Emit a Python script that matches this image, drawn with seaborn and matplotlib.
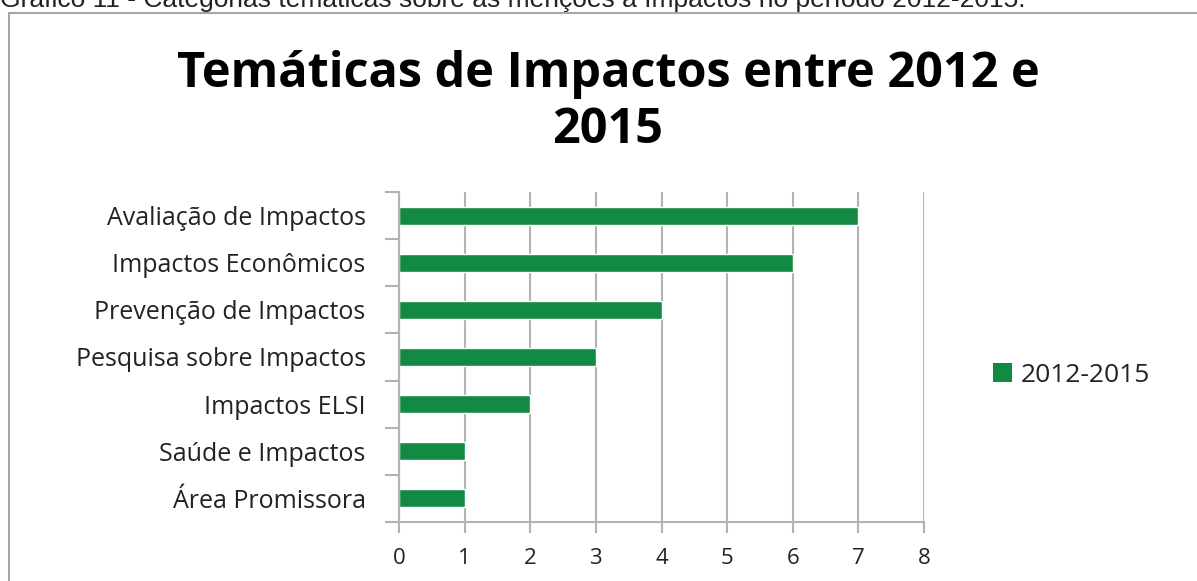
import matplotlib
matplotlib.use("Agg")
import matplotlib.pyplot as plt
import seaborn as sns
import pandas as pd
from matplotlib.ticker import FixedLocator
from matplotlib.patches import Rectangle

categories = ["Avaliação de Impactos", "Impactos Econômicos", "Prevenção de Impactos",
              "Pesquisa sobre Impactos", "Impactos ELSI", "Saúde e Impactos", "Área Promissora"]
values = [7, 6, 4, 3, 2, 1, 1]
series_name = "2012-2015"
x_ticks = [0, 1, 2, 3, 4, 5, 6, 7, 8]
title_lines = ["Temáticas de Impactos entre 2012 e", "2015"]
caption = "Gráfico 11 - Categorias temáticas sobre as menções a Impactos no período 2012-2015."

GREEN = "#138A43"
GRAY = "#B3B3B3"

sns.set_theme(style="white")
plt.rcParams["font.family"] = ["Open Sans", "DejaVu Sans"]

df = pd.DataFrame({"categoria": categories, "valor": values, "periodo": [series_name] * len(values)})

fig = plt.figure(figsize=(11.97, 5.81), dpi=100)
ax = fig.add_axes([399 / 1197, 1 - 522 / 581, (924 - 399) / 1197, (522 - 192) / 581])

sns.barplot(data=df, x="valor", y="categoria", hue="periodo", palette=[GREEN],
            orient="h", width=0.38, ax=ax, legend=False, saturation=1)

ax.set_xlim(0, 8)
ax.set_ylim(len(categories) - 0.5, -0.5)
ax.set_xlabel("")
ax.set_ylabel("")
ax.xaxis.set_major_locator(FixedLocator(x_ticks))
ax.set_xticklabels([str(t) for t in x_ticks])
ax.grid(axis="x", color=GRAY, linewidth=1.5)
ax.grid(axis="y", visible=False)
ax.set_axisbelow(True)

for s in ["top", "right"]:
    ax.spines[s].set_visible(False)
for s in ["left", "bottom"]:
    ax.spines[s].set_color(GRAY)
    ax.spines[s].set_linewidth(1.5)

ax.yaxis.set_minor_locator(FixedLocator([i - 0.5 for i in range(len(categories) + 1)]))
ax.tick_params(axis="y", which="major", length=0, pad=24, labelsize=18, labelcolor="#222222")
ax.tick_params(axis="y", which="minor", left=True, length=10, width=1.5, color=GRAY, direction="out")
ax.tick_params(axis="x", which="major", bottom=True, length=8, width=1.5, color=GRAY,
               direction="out", pad=11, labelsize=16, labelcolor="#222222")

title_baselines = [87, 143]
for line, yb in zip(title_lines, title_baselines):
    fig.text(608 / 1197, 1 - yb / 581, line, ha="center", va="baseline", fontsize=35,
             fontweight="bold", color="black")

handle = Rectangle((0, 0), 1, 1, facecolor=GREEN, edgecolor="none")
fig.legend([handle], [series_name], loc="center left", bbox_to_anchor=(988 / 1197, 1 - 375 / 581),
           frameon=False, fontsize=19, handlelength=0.72, handleheight=0.72, handletextpad=0.34,
           labelcolor="#222222", borderpad=0.2, borderaxespad=0)

# caption cut at top
fig.text(0.0, 1 - 7 / 581, caption, ha="left", va="baseline", fontsize=19,
         family=["Liberation Sans", "DejaVu Sans"], color="#222222")

# outer chart frame
fig.add_artist(Rectangle((9 / 1197, -0.1), 1.2, (1 - 13 / 581) + 0.1, transform=fig.transFigure,
                         fill=False, edgecolor="#A6A6A6", linewidth=1.5))

fig.savefig("out.png", dpi=100)
